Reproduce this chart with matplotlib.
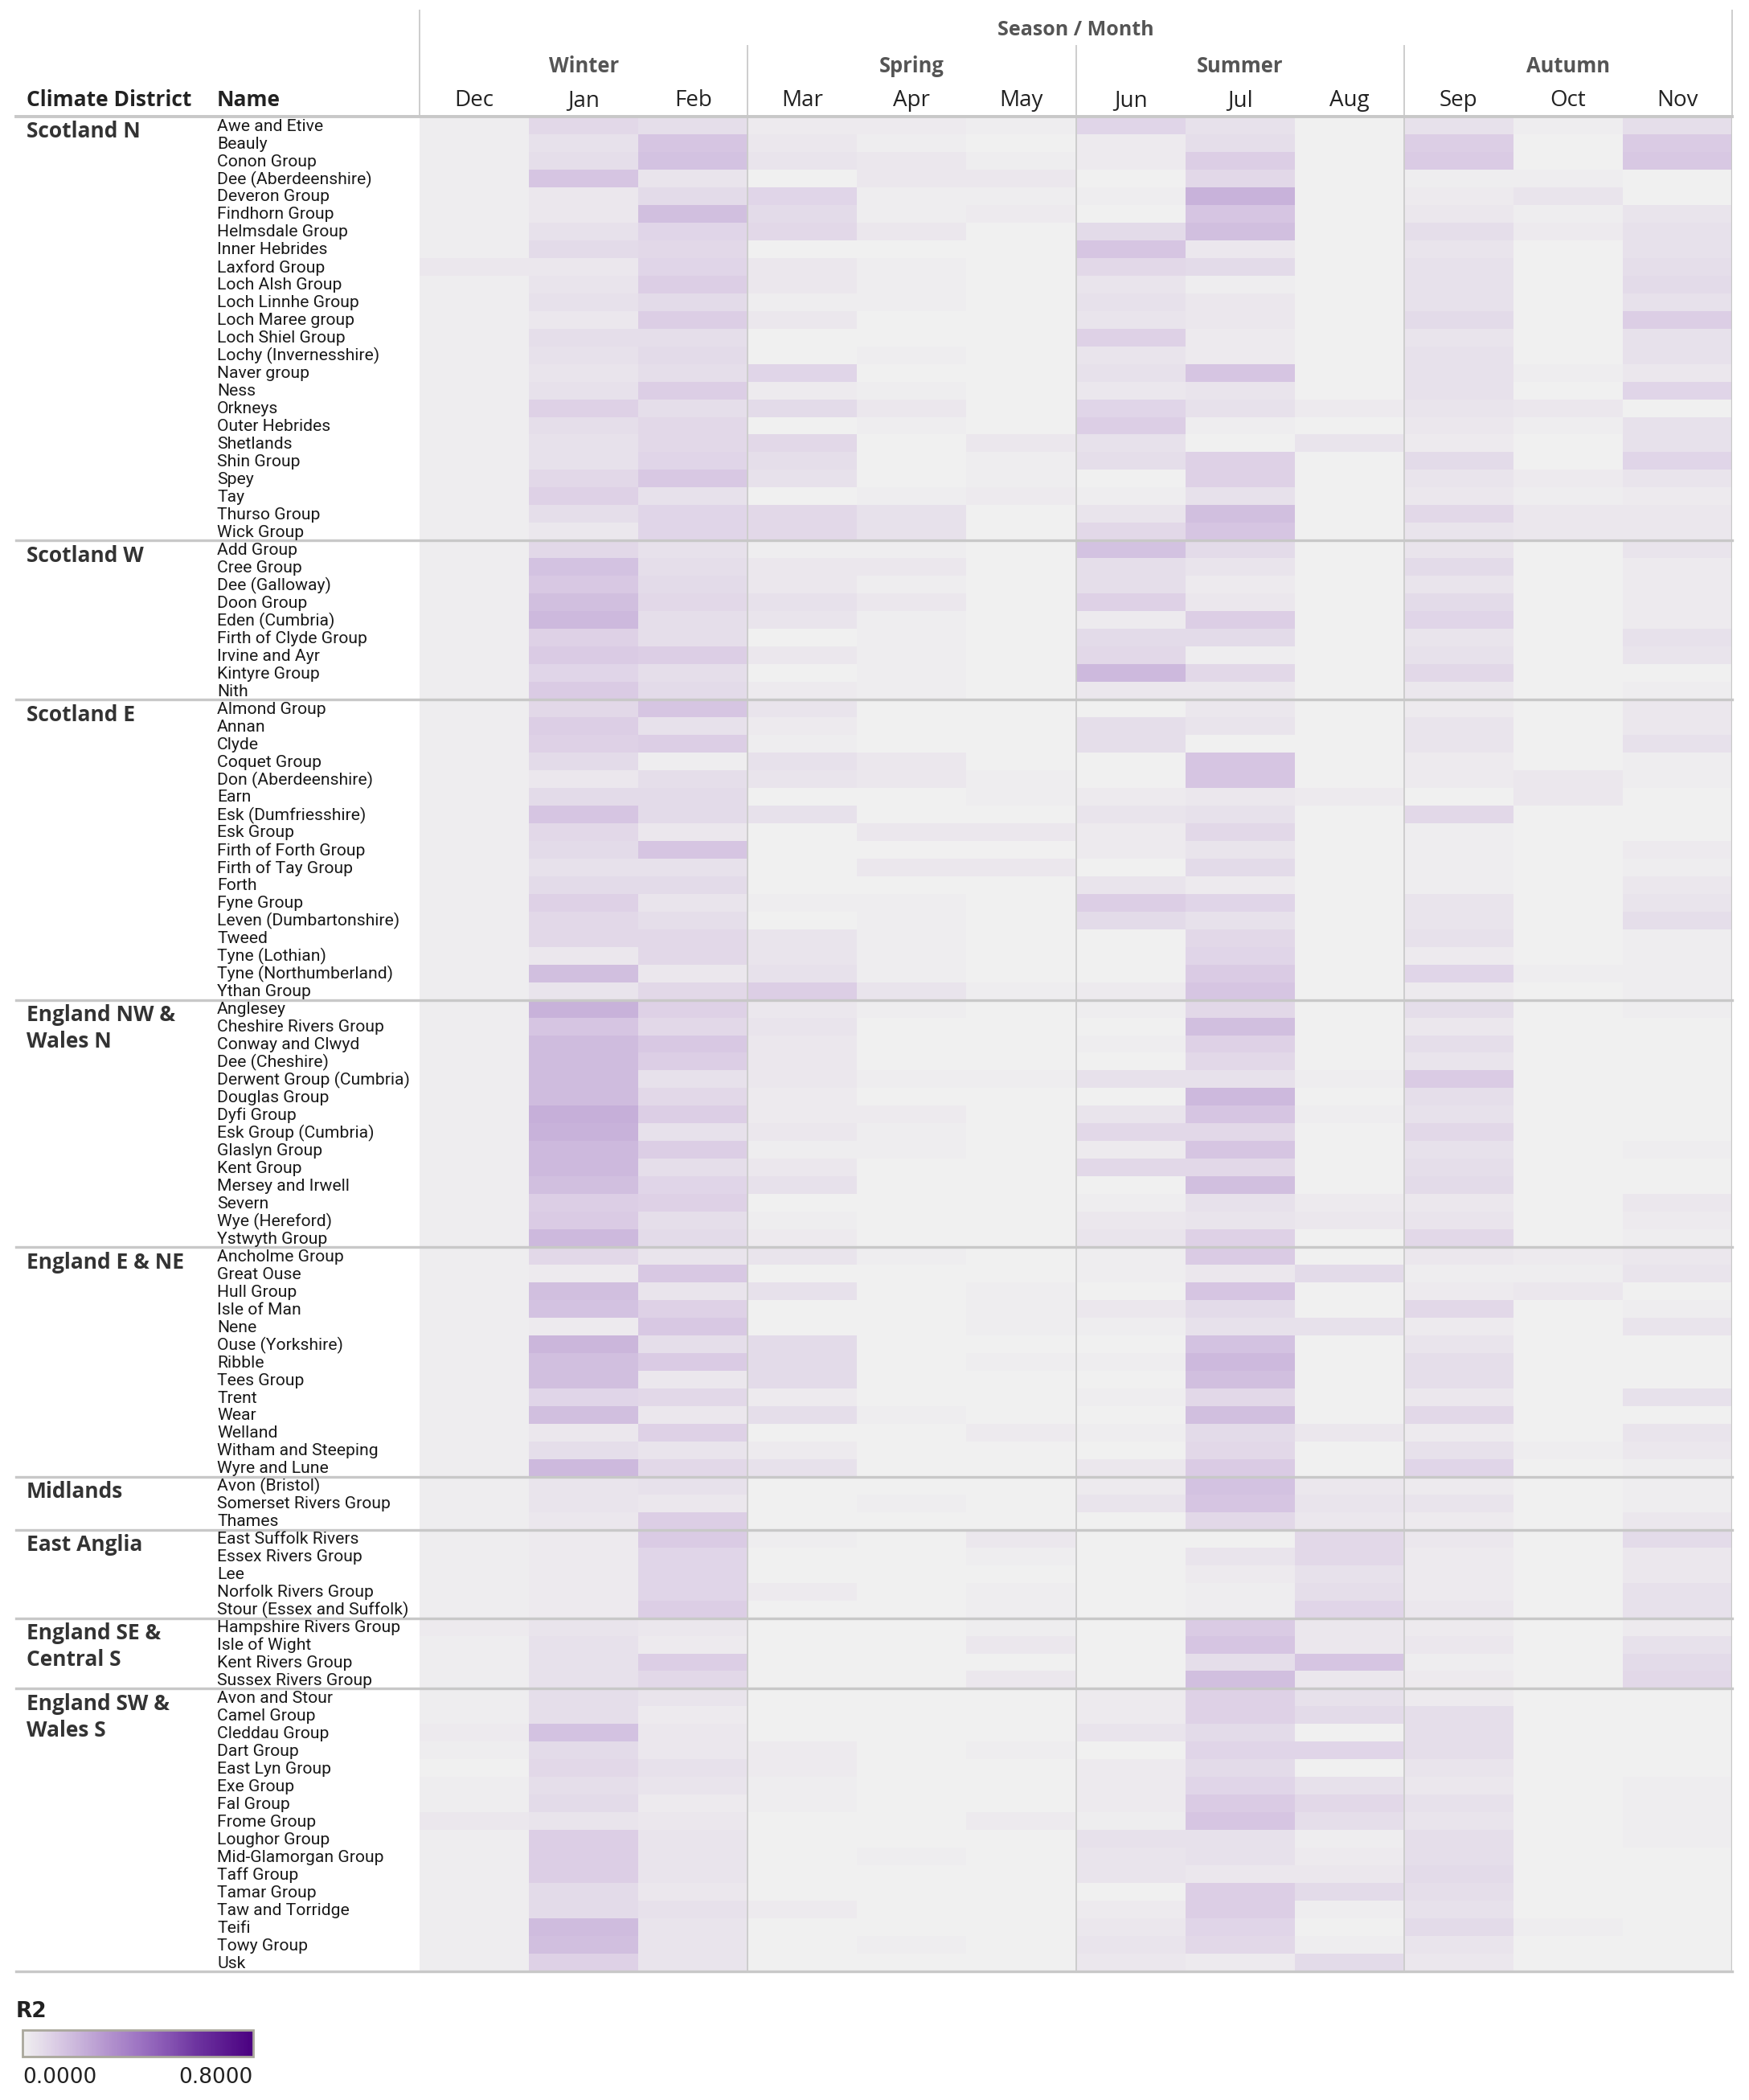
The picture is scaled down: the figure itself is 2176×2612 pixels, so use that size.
import numpy as np
import matplotlib.pyplot as plt
from matplotlib.colors import LinearSegmentedColormap
from matplotlib.lines import Line2D
from matplotlib import transforms

plt.rcParams["font.family"] = ["Open Sans", "DejaVu Sans"]

months = ["Dec", "Jan", "Feb", "Mar", "Apr", "May", "Jun", "Jul", "Aug", "Sep", "Oct", "Nov"]
seasons = ["Winter", "Spring", "Summer", "Autumn"]

# R2 values in hundredths, columns Dec..Nov
names_scot_n = ["Awe and Etive", "Beauly", "Conon Group", "Dee (Aberdeenshire)", "Deveron Group",
                "Findhorn Group", "Helmsdale Group", "Inner Hebrides", "Laxford Group", "Loch Alsh Group",
                "Loch Linnhe Group", "Loch Maree group", "Loch Shiel Group", "Lochy (Invernesshire)",
                "Naver group", "Ness", "Orkneys", "Outer Hebrides", "Shetlands", "Shin Group", "Spey",
                "Tay", "Thurso Group", "Wick Group"]
r2_scot_n = [
    [1, 8, 6, 2, 2, 1, 9, 5, 0, 5, 1, 6],
    [1, 5, 14, 3, 1, 0, 2, 6, 0, 11, 0, 12],
    [1, 6, 15, 4, 3, 1, 2, 11, 0, 12, 0, 13],
    [1, 14, 4, 0, 3, 3, 0, 8, 0, 1, 1, 0],
    [1, 3, 7, 9, 1, 1, 1, 20, 0, 2, 4, 0],
    [1, 3, 16, 7, 1, 2, 0, 14, 0, 3, 1, 4],
    [1, 5, 9, 8, 3, 0, 7, 16, 0, 6, 2, 5],
    [1, 7, 8, 0, 0, 0, 14, 3, 0, 4, 0, 5],
    [3, 3, 9, 3, 1, 0, 8, 7, 0, 5, 0, 6],
    [1, 4, 11, 3, 1, 0, 4, 1, 0, 5, 0, 7],
    [1, 5, 7, 1, 1, 0, 5, 3, 0, 5, 0, 5],
    [1, 3, 11, 3, 0, 0, 4, 3, 0, 7, 0, 11],
    [1, 6, 6, 0, 0, 0, 10, 2, 0, 4, 0, 5],
    [1, 5, 7, 0, 1, 0, 4, 2, 0, 5, 0, 5],
    [1, 4, 6, 9, 0, 0, 5, 14, 0, 5, 1, 3],
    [1, 5, 11, 2, 1, 0, 3, 4, 0, 5, 0, 9],
    [1, 10, 6, 7, 3, 0, 9, 5, 2, 4, 3, 0],
    [1, 6, 8, 0, 1, 0, 11, 1, 0, 3, 1, 5],
    [1, 5, 8, 8, 0, 3, 5, 0, 4, 2, 0, 5],
    [1, 5, 9, 6, 0, 1, 6, 10, 0, 7, 0, 9],
    [1, 8, 13, 5, 0, 1, 0, 10, 0, 4, 2, 4],
    [1, 10, 5, 0, 1, 2, 1, 5, 0, 3, 1, 2],
    [1, 6, 9, 8, 5, 0, 4, 16, 0, 8, 3, 3],
    [1, 3, 9, 8, 5, 0, 8, 14, 0, 4, 3, 3],
]

names_scot_w = ["Add Group", "Cree Group", "Dee (Galloway)", "Doon Group", "Eden (Cumbria)",
                "Firth of Clyde Group", "Irvine and Ayr", "Kintyre Group", "Nith"]
r2_scot_w = [
    [1, 8, 5, 1, 1, 0, 15, 7, 0, 4, 0, 4],
    [1, 15, 6, 3, 3, 0, 6, 4, 0, 7, 0, 2],
    [1, 13, 7, 3, 1, 0, 6, 2, 0, 4, 0, 2],
    [1, 16, 8, 5, 3, 0, 10, 3, 0, 7, 0, 2],
    [1, 18, 6, 4, 1, 0, 2, 11, 0, 9, 0, 2],
    [1, 10, 6, 0, 1, 0, 7, 7, 0, 4, 0, 5],
    [1, 12, 11, 3, 1, 0, 8, 1, 0, 5, 0, 4],
    [1, 9, 6, 0, 1, 0, 18, 8, 0, 8, 0, 0],
    [1, 12, 7, 2, 1, 0, 3, 3, 0, 3, 0, 1],
]

names_scot_e = ["Almond Group", "Annan", "Clyde", "Coquet Group", "Don (Aberdeenshire)", "Earn",
                "Esk (Dumfriesshire)", "Esk Group", "Firth of Forth Group", "Firth of Tay Group", "Forth",
                "Fyne Group", "Leven (Dumbartonshire)", "Tweed", "Tyne (Lothian)", "Tyne (Northumberland)",
                "Ythan Group"]
r2_scot_e = [
    [1, 8, 14, 4, 0, 0, 0, 3, 0, 2, 0, 3],
    [1, 11, 5, 2, 0, 0, 6, 4, 0, 4, 0, 3],
    [1, 10, 11, 1, 0, 0, 6, 0, 0, 4, 0, 5],
    [1, 7, 1, 5, 3, 0, 0, 14, 0, 2, 0, 1],
    [1, 3, 6, 4, 3, 1, 0, 14, 0, 2, 3, 1],
    [1, 7, 7, 0, 0, 1, 2, 3, 2, 0, 3, 0],
    [1, 14, 7, 5, 0, 0, 4, 5, 0, 8, 0, 0],
    [1, 8, 3, 0, 3, 3, 2, 8, 0, 1, 0, 0],
    [1, 7, 14, 0, 0, 0, 2, 4, 0, 1, 0, 2],
    [1, 5, 5, 0, 3, 3, 0, 7, 0, 1, 0, 1],
    [1, 7, 7, 0, 0, 0, 4, 2, 0, 1, 0, 3],
    [1, 10, 4, 1, 1, 0, 11, 9, 0, 4, 0, 4],
    [1, 8, 6, 0, 1, 0, 7, 5, 0, 4, 0, 6],
    [1, 8, 8, 4, 1, 0, 0, 8, 0, 5, 0, 1],
    [1, 3, 8, 4, 1, 0, 0, 9, 0, 2, 0, 1],
    [1, 16, 3, 5, 1, 0, 0, 12, 0, 9, 1, 1],
    [1, 4, 8, 11, 4, 1, 2, 14, 0, 2, 0, 1],
]

names_eng_nw = ["Anglesey", "Cheshire Rivers Group", "Conway and Clwyd", "Dee (Cheshire)",
                "Derwent Group (Cumbria)", "Douglas Group", "Dyfi Group", "Esk Group (Cumbria)",
                "Glaslyn Group", "Kent Group", "Mersey and Irwell", "Severn", "Wye (Hereford)",
                "Ystwyth Group"]
r2_eng_nw = [
    [1, 20, 10, 3, 1, 0, 1, 8, 0, 6, 0, 1],
    [1, 14, 8, 4, 0, 0, 0, 16, 0, 3, 0, 0],
    [1, 17, 13, 3, 0, 0, 1, 10, 0, 6, 0, 0],
    [1, 17, 11, 3, 0, 0, 0, 8, 0, 4, 0, 0],
    [1, 17, 5, 3, 1, 1, 5, 5, 1, 12, 0, 0],
    [1, 17, 8, 2, 0, 0, 0, 18, 0, 6, 0, 0],
    [1, 21, 11, 2, 2, 0, 4, 14, 1, 5, 0, 0],
    [1, 20, 5, 3, 1, 0, 8, 8, 0, 8, 0, 0],
    [1, 18, 11, 1, 1, 0, 2, 14, 0, 5, 0, 1],
    [1, 18, 6, 3, 0, 0, 8, 8, 0, 6, 0, 0],
    [1, 16, 9, 5, 0, 0, 0, 16, 0, 7, 0, 0],
    [1, 11, 10, 0, 0, 0, 1, 5, 2, 3, 0, 3],
    [1, 12, 6, 1, 0, 0, 3, 4, 3, 4, 0, 2],
    [1, 18, 7, 2, 0, 0, 4, 10, 0, 8, 0, 1],
]

names_eng_e = ["Ancholme Group", "Great Ouse", "Hull Group", "Isle of Man", "Nene", "Ouse (Yorkshire)",
               "Ribble", "Tees Group", "Trent", "Wear", "Welland", "Witham and Steeping", "Wyre and Lune"]
r2_eng_e = [
    [1, 8, 4, 4, 1, 0, 1, 12, 0, 3, 2, 3],
    [1, 2, 13, 0, 0, 0, 1, 3, 7, 1, 1, 4],
    [1, 16, 4, 5, 0, 1, 0, 14, 0, 2, 3, 0],
    [1, 15, 10, 0, 0, 1, 3, 7, 0, 8, 0, 1],
    [1, 2, 13, 0, 0, 1, 1, 5, 5, 2, 0, 4],
    [1, 19, 6, 7, 0, 0, 0, 15, 0, 4, 0, 0],
    [1, 16, 12, 7, 0, 1, 1, 18, 0, 6, 0, 0],
    [1, 16, 3, 7, 0, 0, 0, 16, 0, 6, 0, 0],
    [1, 9, 8, 2, 0, 0, 1, 8, 0, 3, 0, 5],
    [1, 16, 3, 6, 1, 0, 0, 16, 0, 8, 0, 0],
    [1, 3, 10, 0, 0, 2, 1, 7, 3, 2, 0, 4],
    [1, 6, 4, 2, 0, 0, 0, 8, 0, 5, 1, 3],
    [1, 18, 8, 5, 0, 0, 3, 12, 0, 9, 0, 1],
]

names_midlands = ["Avon (Bristol)", "Somerset Rivers Group", "Thames"]
r2_midlands = [
    [1, 4, 5, 0, 0, 0, 2, 15, 3, 2, 0, 1],
    [1, 4, 3, 0, 1, 0, 4, 14, 4, 4, 0, 1],
    [1, 3, 11, 0, 0, 0, 0, 8, 3, 2, 0, 3],
]

names_east_anglia = ["East Suffolk Rivers", "Essex Rivers Group", "Lee", "Norfolk Rivers Group",
                     "Stour (Essex and Suffolk)"]
r2_east_anglia = [
    [1, 2, 12, 1, 0, 3, 0, 0, 8, 3, 0, 7],
    [1, 2, 9, 0, 0, 1, 0, 4, 8, 2, 0, 3],
    [1, 2, 9, 0, 0, 0, 0, 2, 5, 2, 0, 3],
    [1, 2, 9, 2, 0, 1, 0, 1, 6, 2, 0, 5],
    [1, 2, 11, 0, 0, 1, 0, 1, 9, 3, 0, 5],
]

names_eng_se = ["Hampshire Rivers Group", "Isle of Wight", "Kent Rivers Group", "Sussex Rivers Group"]
r2_eng_se = [
    [2, 4, 3, 0, 0, 1, 0, 12, 3, 2, 0, 2],
    [1, 5, 2, 0, 0, 3, 0, 14, 3, 3, 0, 5],
    [1, 5, 11, 0, 0, 0, 0, 6, 14, 1, 0, 7],
    [1, 5, 8, 0, 0, 3, 0, 16, 3, 2, 0, 8],
]

names_eng_sw = ["Avon and Stour", "Camel Group", "Cleddau Group", "Dart Group", "East Lyn Group",
                "Exe Group", "Fal Group", "Frome Group", "Loughor Group", "Mid-Glamorgan Group",
                "Taff Group", "Tamar Group", "Taw and Torridge", "Teifi", "Towy Group", "Usk"]
r2_eng_sw = [
    [1, 6, 4, 0, 0, 0, 2, 10, 5, 2, 0, 0],
    [1, 6, 2, 0, 0, 0, 2, 10, 7, 6, 0, 0],
    [2, 15, 3, 0, 0, 0, 4, 7, 0, 6, 0, 0],
    [1, 7, 3, 2, 0, 1, 0, 9, 9, 6, 0, 0],
    [0, 8, 5, 2, 0, 0, 2, 7, 0, 4, 0, 0],
    [1, 6, 4, 1, 0, 0, 2, 9, 5, 3, 0, 1],
    [1, 7, 2, 1, 0, 0, 2, 12, 8, 5, 0, 1],
    [3, 4, 3, 0, 0, 2, 1, 14, 6, 4, 0, 1],
    [1, 11, 4, 0, 0, 0, 5, 5, 1, 6, 0, 1],
    [1, 11, 4, 0, 1, 0, 4, 5, 2, 6, 0, 0],
    [1, 11, 4, 0, 0, 0, 4, 3, 3, 7, 0, 0],
    [1, 7, 3, 0, 0, 0, 0, 11, 7, 6, 0, 0],
    [1, 7, 5, 2, 0, 0, 2, 11, 1, 5, 0, 0],
    [1, 17, 4, 0, 0, 0, 3, 9, 0, 7, 1, 0],
    [1, 16, 4, 0, 1, 0, 4, 8, 1, 4, 0, 0],
    [1, 10, 4, 0, 0, 0, 3, 2, 7, 3, 0, 0],
]

district_labels = ["Scotland N", "Scotland W", "Scotland E", "England NW &\nWales N", "England E & NE",
                   "Midlands", "East Anglia", "England SE &\nCentral S", "England SW &\nWales S"]
group_names = [names_scot_n, names_scot_w, names_scot_e, names_eng_nw, names_eng_e,
               names_midlands, names_east_anglia, names_eng_se, names_eng_sw]
group_r2 = [r2_scot_n, r2_scot_w, r2_scot_e, r2_eng_nw, r2_eng_e,
            r2_midlands, r2_east_anglia, r2_eng_se, r2_eng_sw]

names = [n for g in group_names for n in g]
r2 = np.array([row for g in group_r2 for row in g], dtype=float) / 100.0
sizes = [len(g) for g in group_names]
starts = np.concatenate([[0], np.cumsum(sizes)])
nrows = len(names)

cmap = LinearSegmentedColormap.from_list("tab_purple", [
    (0.0, "#f0f0f0"), (0.13, "#ddd0e6"), (0.25, "#c8b2da"), (0.39, "#b08fcc"),
    (0.5, "#9e75c3"), (0.65, "#8350b0"), (0.75, "#6e35a0"), (1.0, "#4a0080")])

W, H = 2176, 2612
fig = plt.figure(figsize=(W / 200, H / 200), dpi=200)
fx = lambda x: x / W
fy = lambda y: 1 - y / H

left, right, top, bottom = 522, 2155, 145, 2452
ax = fig.add_axes([fx(left), fy(bottom), (right - left) / W, (bottom - top) / H])
mesh = ax.pcolormesh(np.arange(13), np.arange(nrows + 1), r2, cmap=cmap, vmin=0, vmax=0.8)
ax.set_xlim(0, 12)
ax.set_ylim(nrows, 0)
ax.axis("off")

grid = "#cdcdcd"
for s in [3, 6, 9]:
    ax.axvline(s, color=grid, lw=0.7)
ax.axvline(12, color="#c8c8c8", lw=1.2)

tr_rows = transforms.blended_transform_factory(fig.transFigure, ax.transData)
tr_cols = transforms.blended_transform_factory(ax.transData, fig.transFigure)

# header lines
fig.add_artist(Line2D([fx(left), fx(left)], [fy(13), fy(top)], color=grid, lw=0.7))
fig.add_artist(Line2D([12, 12], [fy(13), fy(top)], transform=tr_cols, color=grid, lw=0.7))
for s in [3, 6, 9]:
    fig.add_artist(Line2D([s, s], [fy(57), fy(top)], transform=tr_cols, color=grid, lw=0.7))
fig.add_artist(Line2D([fx(20), fx(right)], [0, 0], transform=tr_rows, color="#c8c8c8", lw=1.4))

# district separators
for b in starts[1:]:
    fig.add_artist(Line2D([fx(20), fx(right)], [b, b], transform=tr_rows, color="#c8c8c8", lw=1.2))

for i, name in enumerate(names):
    t = fig.text(fx(270), 0, name, transform=tr_rows, fontsize=7.6, va="center", color="#1a1a1a",
                 family=["Roboto", "DejaVu Sans"])
    t.set_position((fx(270), i + 0.55))

for lab, st in zip(district_labels, starts[:-1]):
    fig.text(fx(33), st + 0.25, lab, transform=tr_rows, fontsize=9.5, fontweight="bold",
             va="top", color="#333333", linespacing=1.3)

# column headers
fig.text(fx(1338), fy(38), "Season / Month", ha="center", va="center", fontsize=9,
         fontweight="bold", color="#555555")
for k, s in enumerate(seasons):
    fig.text(3 * k + 1.5, fy(82), s, transform=tr_cols, ha="center", va="center", fontsize=9.2,
             fontweight="bold", color="#555555")
for k, m in enumerate(months):
    fig.text(k + 0.5, fy(125), m, transform=tr_cols, ha="center", va="center", fontsize=10,
             color="#222222")
fig.text(fx(33), fy(125), "Climate District", va="center", fontsize=9.5, fontweight="bold", color="#222222")
fig.text(fx(270), fy(125), "Name", va="center", fontsize=9.5, fontweight="bold", color="#222222")

# legend
fig.text(fx(20), fy(2502), "R2", va="center", fontsize=9.5, fontweight="bold",
         family="DejaVu Sans", color="#222222")
cax = fig.add_axes([fx(28), fy(2558), (315 - 28) / W, 33 / H])
cb = fig.colorbar(mesh, cax=cax, orientation="horizontal")
cb.set_ticks([])
cb.outline.set_edgecolor("#aaa89c")
cb.outline.set_linewidth(1.0)
fig.text(fx(28), fy(2584), "0.0000", va="center", fontsize=9.5, family="DejaVu Sans", color="#222222")
fig.text(fx(315), fy(2584), "0.8000", va="center", ha="right", fontsize=9.5, family="DejaVu Sans",
         color="#222222")

fig.savefig("out.png", dpi=200, facecolor="white")
